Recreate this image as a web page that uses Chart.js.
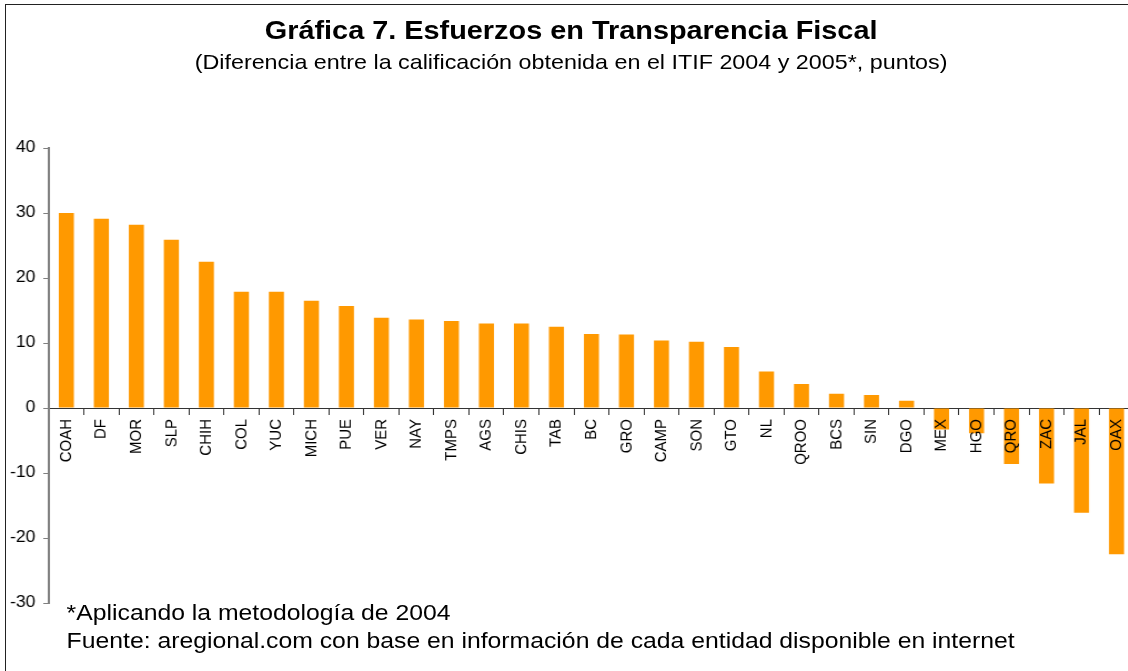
<!DOCTYPE html>
<html>
<head>
<meta charset="utf-8">
<script src="https://cdn.jsdelivr.net/npm/chart.js@4.4.0/dist/chart.umd.min.js"></script>
<style>
  html, body { margin: 0; padding: 0; background: #fff; overflow: hidden; }
  body { width: 1128px; height: 671px; position: relative; font-family: "Liberation Sans", Arial, sans-serif; }
  #frame { position: absolute; left: 5px; top: 4px; width: 1200px; height: 800px; border: 1.5px solid #222; box-sizing: border-box; }
  /* la figura original esta estirada a lo ancho */
  #wrap { position: absolute; left: 0; top: 0; width: 1029px; height: 671px; transform: scaleX(1.11); transform-origin: 0 0; }
  #chart { position: absolute; left: 0; top: 0; }
  .txt { position: absolute; color: #000; white-space: nowrap; line-height: 1.15; }
  #title { left: 0; width: 1029px; top: 16px; text-align: center; font-size: 26px; font-weight: bold; }
  #subtitle { left: 0; width: 1029px; top: 50px; text-align: center; font-size: 21px; }
  #note1 { left: 60px; top: 600px; font-size: 22.3px; }
  #note2 { left: 60px; top: 628px; font-size: 22.3px; }
</style>
</head>
<body>
<div id="frame"></div>
<div id="wrap">
  <canvas id="chart" width="1029" height="671"></canvas>
  <div class="txt" id="title">Gráfica 7. Esfuerzos en Transparencia Fiscal</div>
  <div class="txt" id="subtitle">(Diferencia entre la calificación obtenida en el ITIF 2004 y 2005*, puntos)</div>
  <div class="txt" id="note1">*Aplicando la metodología de 2004</div>
  <div class="txt" id="note2">Fuente: aregional.com con base en información de cada entidad disponible en internet</div>
</div>
<script>
// estados
const estados = ['COAH', 'DF', 'MOR', 'SLP', 'CHIH', 'COL', 'YUC', 'MICH', 'PUE', 'VER',
  'NAY', 'TMPS', 'AGS', 'CHIS', 'TAB', 'BC', 'GRO', 'CAMP', 'SON', 'GTO',
  'NL', 'QROO', 'BCS', 'SIN', 'DGO', 'MEX', 'HGO', 'QRO', 'ZAC', 'JAL', 'OAX'];

// diferencia de calificacion 2004 vs 2005 (puntos)
const diferencia = [30, 29.1, 28.2, 25.9, 22.5, 17.9, 17.9, 16.5, 15.7, 13.9,
  13.6, 13.4, 13.0, 13.0, 12.5, 11.4, 11.3, 10.4, 10.2, 9.4,
  5.6, 3.7, 2.2, 2.0, 1.1, -3.3, -3.9, -8.6, -11.6, -16.1, -22.5];

// eje y
const yMin = -30;
const yMax = 40;
const yPaso = 10;

const fuente = '"Liberation Sans", Arial, sans-serif';

const ctx = document.getElementById('chart').getContext('2d');
new Chart(ctx, {
  type: 'bar',
  data: {
    labels: estados,
    datasets: [{
      data: diferencia,
      backgroundColor: '#FF9900',
      borderWidth: 0,
      barPercentage: 0.86,
      categoryPercentage: 0.5
    }]
  },
  options: {
    responsive: false,
    animation: false,
    events: [],
    layout: {
      padding: { left: 0, top: 148, right: 7, bottom: 68 }
    },
    plugins: {
      legend: { display: false },
      tooltip: { enabled: false }
    },
    scales: {
      x: {
        position: { y: 0 },
        grid: {
          offset: true,
          drawOnChartArea: false,
          drawTicks: true,
          tickLength: 6,
          color: '#333'
        },
        border: { color: '#333', width: 1 },
        ticks: {
          z: 1,
          autoSkip: false,
          minRotation: 90,
          maxRotation: 90,
          padding: 5,
          color: '#000',
          font: { family: fuente, size: 15 }
        }
      },
      y: {
        min: yMin,
        max: yMax,
        afterFit: function (scale) { scale.width = 44; },
        grid: {
          drawOnChartArea: false,
          drawTicks: true,
          tickLength: 5,
          color: '#808080'
        },
        border: { color: '#808080', width: 2 },
        ticks: {
          stepSize: yPaso,
          padding: 7,
          color: '#000',
          font: { family: fuente, size: 16 }
        }
      }
    }
  }
});
</script>
</body>
</html>
